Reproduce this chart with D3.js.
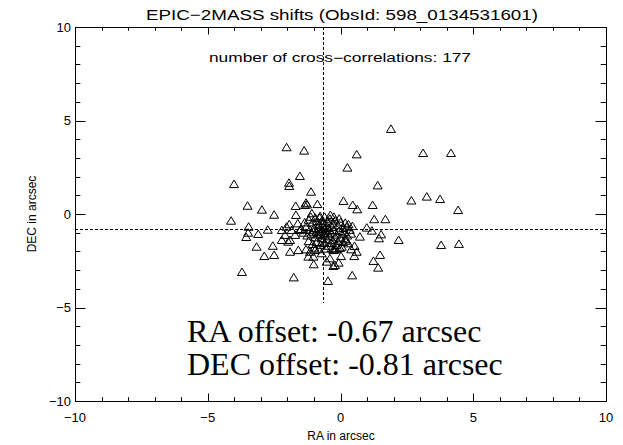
<!DOCTYPE html>
<html>
<head>
<meta charset="utf-8">
<script src="https://cdn.jsdelivr.net/npm/d3@7"></script>
<style>
  html, body { margin: 0; padding: 0; background: #fff; }
  svg { display: block; }
  text { fill: #000; }
</style>
</head>
<body>
<svg id="chart" width="623" height="445"></svg>
<script>
// EPIC vs 2MASS positional shifts (arcsec) for each cross-correlated source
const raShift = [
  1.90, 4.16, 3.11, -2.03, -1.37, 0.61, 0.26, -1.53, -4.01, -1.94,
  -1.93, 1.40, -1.11, 0.11, 2.67, 3.25, 3.75, 4.43, -1.30, -1.26,
  -0.87, -1.69, -3.50, -2.96, -2.50, 0.46, 0.63, 1.21, -4.12, -3.46,
  -3.48, -3.55, -3.10, -2.74, -3.16, -2.55, -2.87, -2.50, -3.71, -1.76,
  -1.01, -0.47, 0.44, -0.27, -0.07, 0.52, 0.40, 0.02, 1.24, 1.42,
  1.49, 1.27, 1.69, 0.99, 1.18, 1.53, 1.45, 0.73, 2.19, 3.79,
  4.46, 0.18, 0.23, 0.53, 0.20, 0.29, -0.17, -0.02, -0.33, -1.30,
  -1.15, -0.96, -0.82, -1.68, -1.61, -1.93, -2.03, -1.84, -2.09, -1.97,
  -1.71, -1.53, -2.21, -2.21, -1.90, -1.34, -1.08, -0.77, -1.02, -1.21,
  -0.52, -0.40, -0.21, 0.61, -1.90, -1.59, -0.71, -0.27,
  -1.20, -1.05, -0.95, -0.85, -0.70, -0.60, -0.50, -0.40, -0.30, -0.20,
  -0.10, 0.00, 0.10, -1.30, -1.15, -1.00, -0.90, -0.80, -0.75, -0.65,
  -0.55, -0.45, -0.35, -0.25, -0.15, -0.05, 0.05, 0.15, 0.25, 0.35,
  -1.40, -1.25, -1.10, -0.95, -0.85, -0.70, -0.60, -0.50, -0.40, -0.30,
  -0.20, -0.10, 0.00, 0.10, 0.20, -1.20, -1.05, -0.90, -0.75, -0.60,
  -0.45, -0.35, -0.80, -0.65, -0.58, -0.48, -0.72, -0.62, -0.52, -0.42,
  -0.32, -0.88, -1.02, -0.25, -0.05, 0.30, 0.40, -1.35, -1.48, -0.68,
  -0.15, 0.05, -0.98, -0.78, -0.38, -1.12, 0.45, -0.55, -0.22
];
const decShift = [
  4.55, 3.26, 3.26, 3.57, 3.39, 3.19, 2.48, 2.03, 1.60, 1.67,
  1.50, 1.53, 1.19, 0.70, 0.72, 0.93, 0.80, 0.21, 0.60, 0.51,
  0.53, 0.43, 0.44, 0.23, -0.04, 0.48, 0.25, 0.48, -0.36, -0.68,
  -1.00, -1.23, -1.07, -0.84, -1.75, -1.70, -2.25, -2.19, -3.10, -3.39,
  -2.69, -3.58, -3.28, -2.78, -2.60, -2.25, -1.89, -2.25, -2.51, -2.87,
  -2.19, -0.28, -0.28, -0.73, -0.89, -1.09, -1.30, -1.21, -1.39, -1.66,
  -1.60, -0.47, -0.68, -1.71, -1.43, -1.57, -1.89, -1.82, -1.83, -1.89,
  -2.02, -1.93, -1.89, -0.05, -0.50, -0.55, -0.68, -0.86, -1.12, -1.48,
  -1.12, -0.86, -0.86, -1.39, -1.39, 0.48, 0.04, -0.11, -2.28, -2.28,
  -2.55, -2.37, -2.73, -2.02, -2.02, -1.93, -2.10, -1.93,
  -0.30, -0.45, -0.20, -0.55, -0.35, -0.15, -0.40, -0.25, -0.50, -0.35,
  -0.60, -0.45, -0.75, -0.70, -0.85, -0.75, -0.95, -0.80, -1.05, -0.70,
  -0.90, -0.75, -1.00, -0.85, -1.10, -0.90, -1.05, -0.95, -1.15, -0.85,
  -1.00, -1.15, -1.05, -1.25, -1.10, -1.30, -1.15, -1.35, -1.20, -1.40,
  -1.25, -1.45, -1.30, -1.50, -1.35, -1.45, -1.60, -1.50, -1.65, -1.55,
  -1.70, -1.55, -0.60, -0.50, -0.78, -1.05, -0.92, -1.00, -0.62, -0.88,
  -0.70, -0.38, -0.95, -0.15, -0.25, -0.55, -1.05, -0.45, -0.80, -1.48,
  -1.65, -1.75, -1.80, -0.20, -0.05, -0.15, -0.65, -1.85, -1.90
];
const raOffset = -0.67;
const decOffset = -0.81;
const nCross = 177;
const axisRange = [-10, 10];
const majorTicks = [-10, -5, 0, 5, 10];
const minorTicks = [-9, -8, -7, -6, -4, -3, -2, -1, 1, 2, 3, 4, 6, 7, 8, 9];
const tickLabels = ["\u221210", "\u22125", "0", "5", "10"];
const vLineDecRange = [10, -4.75];

const points = raShift.map((ra, i) => ({ ra, dec: decShift[i] }));

const svg = d3.select("#chart");
const box = { left: 75, right: 606, top: 27, bottom: 401 };
const x = d3.scaleLinear().domain(axisRange).range([box.left, box.right]);
const y = d3.scaleLinear().domain(axisRange).range([box.bottom, box.top]);

const labelFont = "'Liberation Sans', 'DejaVu Sans', sans-serif";

// plot frame
svg.append("rect")
  .attr("x", box.left + 0.5).attr("y", box.top + 0.5)
  .attr("width", box.right - box.left).attr("height", box.bottom - box.top)
  .attr("fill", "none").attr("stroke", "#000").attr("stroke-width", 1);

// tick marks on all four sides
const xMajLen = 7.5, xMinLen = 3.8, yMajLen = 10.5, yMinLen = 5.3;
const tickG = svg.append("g").attr("stroke", "#000").attr("stroke-width", 1);
function xTicks(vals, len) {
  vals.forEach(v => {
    const px = Math.round(x(v)) + 0.5;
    tickG.append("line").attr("x1", px).attr("x2", px)
      .attr("y1", box.bottom).attr("y2", box.bottom - len);
    tickG.append("line").attr("x1", px).attr("x2", px)
      .attr("y1", box.top).attr("y2", box.top + len);
  });
}
function yTicks(vals, len) {
  vals.forEach(v => {
    const py = Math.round(y(v)) + 0.5;
    tickG.append("line").attr("y1", py).attr("y2", py)
      .attr("x1", box.left).attr("x2", box.left + len);
    tickG.append("line").attr("y1", py).attr("y2", py)
      .attr("x1", box.right).attr("x2", box.right - len);
  });
}
xTicks(majorTicks, xMajLen); xTicks(minorTicks, xMinLen);
yTicks(majorTicks, yMajLen); yTicks(minorTicks, yMinLen);

// tick labels
svg.append("g").selectAll("text").data(majorTicks).join("text")
  .attr("x", d => x(d)).attr("y", 422)
  .attr("text-anchor", "middle")
  .attr("font-family", labelFont).attr("font-size", 13)
  .text((d, i) => tickLabels[i]);
svg.append("g").selectAll("text").data(majorTicks).join("text")
  .attr("x", box.left - 4).attr("y", d => y(d) + 4.5)
  .attr("text-anchor", "end")
  .attr("font-family", labelFont).attr("font-size", 13)
  .text((d, i) => tickLabels[i]);

// axis titles
svg.append("text")
  .attr("x", 341).attr("y", 440).attr("text-anchor", "middle")
  .attr("font-family", labelFont).attr("font-size", 12)
  .text("RA in arcsec");
svg.append("text")
  .attr("transform", "translate(36,214) rotate(-90)").attr("text-anchor", "middle")
  .attr("font-family", labelFont).attr("font-size", 12)
  .text("DEC in arcsec");

// chart title
svg.append("text")
  .attr("x", 342).attr("y", 20).attr("text-anchor", "middle")
  .attr("font-family", labelFont).attr("font-size", 15)
  .attr("textLength", 392).attr("lengthAdjust", "spacingAndGlyphs")
  .text("EPIC\u22122MASS shifts (ObsId: 598_0134531601)");

// offset guide lines
const guide = svg.append("g").attr("stroke", "#000").attr("stroke-width", 1)
  .attr("stroke-dasharray", "3,2").attr("fill", "none");
guide.append("line")
  .attr("x1", Math.round(x(raOffset)) + 0.5).attr("x2", Math.round(x(raOffset)) + 0.5)
  .attr("y1", y(vLineDecRange[0])).attr("y2", y(vLineDecRange[1]));
guide.append("line")
  .attr("x1", box.left).attr("x2", box.right)
  .attr("y1", Math.round(y(decOffset)) + 0.5).attr("y2", Math.round(y(decOffset)) + 0.5);

// count annotation
svg.append("text")
  .attr("x", 340).attr("y", 62).attr("text-anchor", "middle")
  .attr("font-family", labelFont).attr("font-size", 12)
  .attr("textLength", 262).attr("lengthAdjust", "spacingAndGlyphs")
  .text(`number of cross\u2212correlations: ${nCross}`);

// triangle symbols
const tri = "M-4.5,3.5L0,-4L4.5,3.5Z";
svg.append("g").selectAll("path").data(points).join("path")
  .attr("d", tri)
  .attr("transform", d => `translate(${x(d.ra)},${y(d.dec)})`)
  .attr("fill", "none").attr("stroke", "#000").attr("stroke-width", 1);

// offset summary (plain hyphen for the sign)
const fmt = v => v.toFixed(2);
const summary = svg.append("g")
  .attr("font-family", "'Liberation Serif', 'Times New Roman', serif")
  .attr("font-size", 32);
summary.append("text").attr("x", 187).attr("y", 342)
  .text(`RA offset: ${fmt(raOffset)} arcsec`);
summary.append("text").attr("x", 187).attr("y", 375)
  .text(`DEC offset: ${fmt(decOffset)} arcsec`);
</script>
</body>
</html>
